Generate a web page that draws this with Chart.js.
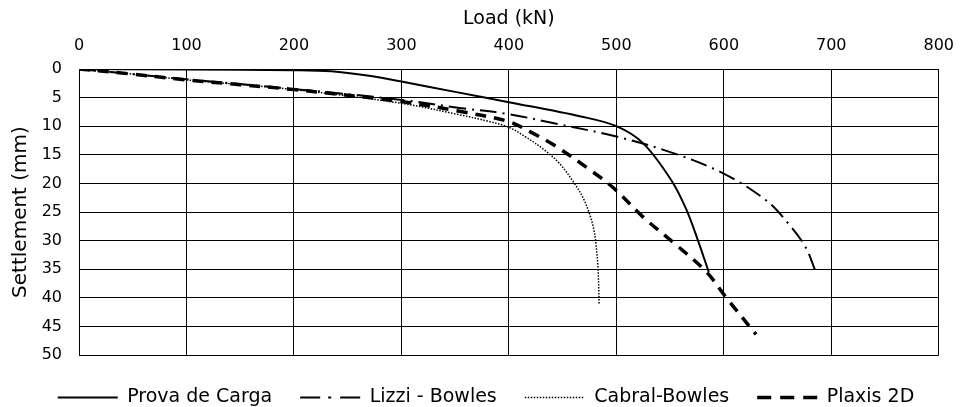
<!DOCTYPE html>
<html>
<head>
<meta charset="utf-8">
<script src="https://cdn.jsdelivr.net/npm/chart.js@4.4.1/dist/chart.umd.min.js"></script>
<style>
  body { margin: 0; background: #fff; }
</style>
</head>
<body>
<canvas id="settlementChart" width="968" height="407"></canvas>
<script>
// Load (kN) / settlement (mm) pairs
const provaLoad = [0, 100, 200, 235, 270, 300, 350, 400, 467, 500, 525, 551, 565, 576, 586];
const provaSettle = [0, 0.1, 0.2, 0.4, 1.2, 2.2, 4.0, 5.8, 8.3, 10, 13, 19.4, 24.5, 30, 35.5];

const lizziLoad = [0, 50, 100, 200, 300, 354, 400, 442, 500, 553, 599, 639, 660, 676, 685];
const lizziSettle = [0, 0.9, 1.8, 3.5, 5.4, 6.8, 7.9, 9.5, 11.8, 14.7, 18.2, 22.9, 27, 31.1, 35.2];

const cabralLoad = [0, 50, 100, 200, 300, 354, 380, 400, 415, 432, 447, 461, 469, 475, 479, 481, 483, 484];
const cabralSettle = [0, 0.9, 1.9, 3.6, 6.0, 8.0, 9.1, 10.2, 11.8, 14.0, 16.5, 20, 22.5, 25.3, 28, 30.5, 35, 41];

const plaxisLoad = [0, 50, 100, 200, 300, 354, 400, 420, 442, 476, 498, 525, 556, 584, 602, 630];
const plaxisSettle = [0, 0.9, 1.9, 3.6, 5.7, 7.4, 9.2, 11.0, 13.3, 17.7, 20.9, 25.9, 30.8, 35.5, 39.9, 46.4];

const seriesNames = ['Prova de Carga', 'Lizzi - Bowles', 'Cabral-Bowles', 'Plaxis 2D'];

const loadTicks = { min: 0, max: 800, step: 100 };
const settleTicks = { min: 0, max: 50, step: 5 };

function toPoints(xs, ys) {
    return xs.map((x, i) => ({ x: x, y: ys[i] }));
}

const fontFamily = "'DejaVu Sans', Verdana, sans-serif";

const ctx = document.getElementById('settlementChart').getContext('2d');
const chart = new Chart(ctx, {
    type: 'line',
    data: {
        datasets: [{
            label: seriesNames[0],
            data: toPoints(provaLoad, provaSettle),
            borderColor: '#000',
            borderWidth: 2,
            borderDash: [],
            legendDash: [],
        }, {
            label: seriesNames[1],
            data: toPoints(lizziLoad, lizziSettle),
            borderColor: '#000',
            borderWidth: 2,
            borderDash: [17, 6, 2, 6],
            legendDash: [20, 8, 3, 9, 20],
        }, {
            label: seriesNames[2],
            data: toPoints(cabralLoad, cabralSettle),
            borderColor: '#000',
            borderWidth: 1.5,
            borderDash: [1.5, 1.5],
            legendDash: [1.5, 1.5],
        }, {
            label: seriesNames[3],
            data: toPoints(plaxisLoad, plaxisSettle),
            borderColor: '#000',
            borderWidth: 3.5,
            borderDash: [11, 8],
            legendDash: [14, 9],
        }]
    },
    options: {
        responsive: false,
        animation: false,
        parsing: false,
        elements: {
            point: { radius: 0 },
            line: { fill: false, tension: 0.35 }
        },
        layout: { padding: { left: 24, right: 20, top: 0, bottom: -10 } },
        plugins: {
            tooltip: { enabled: false },
            legend: {
                position: 'bottom',
                // empty title only used as a small spacer above the items
                title: { display: true, text: '', padding: 0, font: { size: 5, lineHeight: 1 } },
                labels: {
                    usePointStyle: true,
                    pointStyle: 'line',
                    pointStyleWidth: 60,
                    boxHeight: 19,
                    padding: 28,
                    color: '#000',
                    font: { family: fontFamily, size: 19 },
                    // take dash and width straight from each dataset
                    generateLabels: function (chart) {
                        const items = Chart.defaults.plugins.legend.labels.generateLabels(chart);
                        items.forEach(function (item) {
                            const ds = chart.data.datasets[item.datasetIndex];
                            item.lineDash = ds.legendDash;
                            item.lineWidth = ds.borderWidth;
                            item.strokeStyle = ds.borderColor;
                            item.pointStyle = 'line';
                        });
                        return items;
                    }
                }
            }
        },
        scales: {
            x: {
                type: 'linear',
                position: 'top',
                min: loadTicks.min,
                max: loadTicks.max,
                ticks: {
                    stepSize: loadTicks.step,
                    padding: 14,
                    color: '#000',
                    font: { family: fontFamily, size: 16 }
                },
                grid: { color: '#000', lineWidth: 1, drawTicks: false },
                border: { color: '#000', width: 1 },
                title: {
                    display: true,
                    text: 'Load (kN)',
                    color: '#000',
                    padding: { top: 8, bottom: 0 },
                    font: { family: fontFamily, size: 19 }
                },
                afterFit: function (scale) { scale.height = 69; }
            },
            y: {
                type: 'linear',
                reverse: true,
                min: settleTicks.min,
                max: settleTicks.max,
                ticks: {
                    stepSize: settleTicks.step,
                    padding: 17,
                    color: '#000',
                    font: { family: fontFamily, size: 16 }
                },
                grid: { color: '#000', lineWidth: 1, drawTicks: false },
                border: { color: '#000', width: 1 },
                title: {
                    display: true,
                    text: 'Settlement (mm)',
                    color: '#000',
                    padding: { top: -15, bottom: 0 },
                    font: { family: fontFamily, size: 20 }
                },
                afterFit: function (scale) { scale.width = 55; }
            }
        }
    }
});
</script>
</body>
</html>
